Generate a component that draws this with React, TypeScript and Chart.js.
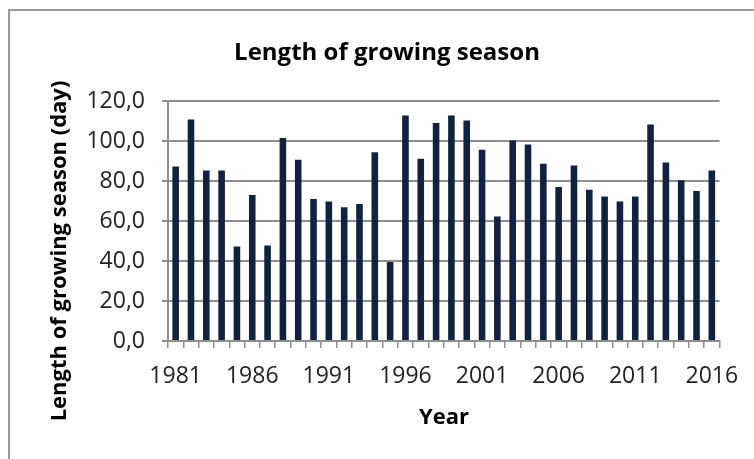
import React, { useEffect, useRef } from 'react';
import { Chart, registerables } from 'chart.js';

Chart.register(...registerables);

const years = [
  '1981', '1982', '1983', '1984', '1985', '1986', '1987', '1988', '1989', '1990',
  '1991', '1992', '1993', '1994', '1995', '1996', '1997', '1998', '1999', '2000',
  '2001', '2002', '2003', '2004', '2005', '2006', '2007', '2008', '2009', '2010',
  '2011', '2012', '2013', '2014', '2015', '2016',
];

const seasonLength = [
  87.3, 110.7, 85.3, 85.3, 47.2, 73.0, 47.8, 101.5, 90.6, 71.0,
  69.8, 66.9, 68.5, 94.4, 39.5, 112.8, 91.1, 109.0, 112.8, 110.3,
  95.6, 62.3, 100.3, 98.3, 88.6, 77.0, 87.8, 75.6, 72.2, 69.7,
  72.2, 108.2, 89.3, 80.4, 75.0, 85.3,
];

const shownYearTicks = ['1981', '1986', '1991', '1996', '2001', '2006', '2011', '2016'];
const yTicks = [0, 20, 40, 60, 80, 100, 120];

const chartTitle = 'Length of growing season';
const yAxisTitle = 'Length of growing season (day)';
const xAxisTitle = 'Year';

export default function App() {
  const ref = useRef<HTMLCanvasElement>(null);

  useEffect(() => {
    if (!ref.current) return;
    const titlesPlugin = {
      id: 'customTitles',
      afterDraw(chart: any) {
        const ctx = chart.ctx as CanvasRenderingContext2D;
        ctx.save();
        ctx.fillStyle = '#000000';
        ctx.textAlign = 'center';
        ctx.textBaseline = 'alphabetic';
        ctx.font = 'bold 24px "Open Sans"';
        ctx.fillText(chartTitle, 387, 60);
        ctx.font = 'bold 22px "Open Sans"';
        ctx.fillText(xAxisTitle, 444, 424);
        ctx.translate(66, 251);
        ctx.rotate(-Math.PI / 2);
        ctx.fillText(yAxisTitle, 0, 0);
        ctx.restore();
      },
    };

    const gridColor = '#8f8f8f';
    const chart = new Chart(ref.current, {
      type: 'bar',
      data: {
        labels: years,
        datasets: [
          {
            data: seasonLength,
            backgroundColor: '#10223f',
            categoryPercentage: 1,
            barPercentage: 0.43,
          },
        ],
      },
      options: {
        responsive: false,
        animation: false,
        layout: { padding: { top: 101, right: 34.5, bottom: 0, left: 0 } },
        plugins: {
          legend: { display: false },
          title: { display: false },
          tooltip: { enabled: false },
        },
        scales: {
          x: {
            afterFit: (s: any) => {
              s.height = 118;
            },
            grid: {
              offset: true,
              drawOnChartArea: false,
              drawTicks: true,
              tickLength: 7,
              color: gridColor,
              lineWidth: 1.5,
            },
            border: { display: true, color: gridColor, width: 2 },
            ticks: {
              autoSkip: false,
              maxRotation: 0,
              minRotation: 0,
              padding: 15,
              color: '#222222',
              font: { family: 'Open Sans', size: 23 },
              callback: (_v: any, i: number) =>
                shownYearTicks.includes(years[i]) ? years[i] : '',
            },
          },
          y: {
            min: 0,
            max: 120,
            afterFit: (s: any) => {
              s.width = 168;
            },
            afterBuildTicks: (s: any) => {
              s.ticks = yTicks.map((v) => ({ value: v }));
            },
            grid: { color: gridColor, lineWidth: 2, tickLength: 6 },
            border: { display: true, color: gridColor, width: 2 },
            ticks: {
              padding: 17,
              color: '#222222',
              font: { family: 'Open Sans', size: 23 },
              callback: (v: any) => Number(v).toFixed(1).replace('.', ','),
            },
          },
        },
      },
      plugins: [titlesPlugin],
    });
    return () => chart.destroy();
  }, []);

  return (
    <div style={{ position: 'absolute', left: 0, top: 0, width: 754, height: 459, overflow: 'hidden', background: '#ffffff' }}>
      <div
        style={{
          position: 'absolute',
          left: 8,
          top: 9,
          width: 800,
          height: 500,
          border: '2px solid #9a9a9a',
          boxSizing: 'border-box',
        }}
      />
      <canvas
        ref={ref}
        width={754}
        height={459}
        style={{ position: 'absolute', left: 0, top: 0, width: 754, height: 459 }}
      />
    </div>
  );
}
